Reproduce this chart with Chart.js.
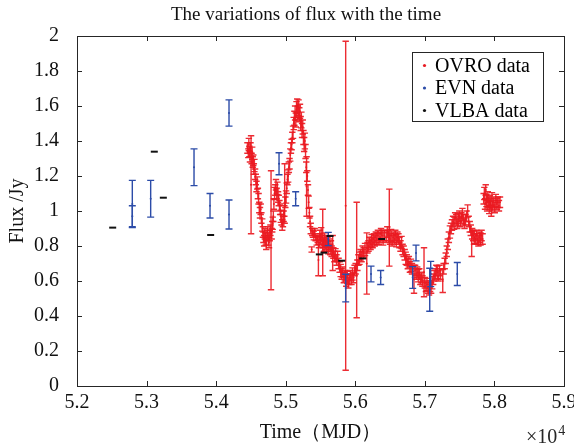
<!DOCTYPE html>
<html>
<head>
<meta charset="utf-8">
<script src="https://cdn.jsdelivr.net/npm/chart.js@4.4.1/dist/chart.umd.min.js"></script>
<style>
  html, body { margin: 0; padding: 0; background: #fff; }
</style>
</head>
<body>
<canvas id="flux_chart" width="574" height="445"></canvas>
<script>
// OVRO monitoring (MJD, flux in Jy, 1-sigma error)
var ovroMjd = [
  54450,54462,54470,54478,54486,54494,54502,54510,54518,54526,
  54534,54542,54550,54560,54570,54580,54590,54600,54610,54620,
  54630,54640,54650,54662,54672,54680,54690,54700,54710,54720,
  54730,54740,54750,54760,54770,54780,54789,54798,54806,54814,
  54822,54830,54840,54850,54860,54870,54880,54890,54900,54910,
  54920,54930,54940,54950,54960,54970,54980,54985,54995,55005,
  55015,55025,55035,55045,55055,55065,55075,55085,55095,55105,
  55115,55125,55135,55145,55155,55165,55175,55185,55195,55205,
  55215,55225,55235,55245,55255,55265,55275,55285,55295,55300,
  55310,55320,55330,55340,55350,55360,55373,55380,55392,55404,
  55416,55430,55445,55460,55470,55478,55490,55500,55510,55520,
  55532,55540,55550,55560,55570,55580,55590,55600,55612,55625,
  55640,55650,55660,55675,55685,55700,55715,55730,55745,55760,
  55775,55790,55805,55820,55835,55850,55862,55870,55885,55900,
  55915,55930,55945,55960,55975,55990,56005,56020,56030,56045,
  56060,56075,56090,56105,56120,56140,56165,56175,56190,56205,
  56220,56235,56250,56265,56280,56295,56310,56325,56340,56355,
  56370,56385,56400,56418,56445,56460,56475,56489,56500,56515,
  56530,56545,56560,56575,56590,56605,56620,56635,56650,56665,
  56680,56695,56710,56725,56740,56755,56770,56785,56800,56815,
  56844,56860,56875,56890,56905,56920,56935,56950,56965,56988,
  57000,57015,57030,57045,57060,57075,57090,57105,57120,57135,
  57150,57165,57180,57195,57210,57225,57257,57270,57285,57300,
  57315,57330,57345,57360,57375,57390,57405,57420,57435,57450,
  57465,57480,57495,57510,57525,57540,57555,57570,57585,57600,
  57615,57630,57645,57660,57673,57680,57695,57710,57725,57740,
  57755,57770,57785,57800,57815,57830,57845,57855,57865,57875,
  57885,57895,57905,57915,57925,57935,57945,57955,57965,57975,
  57990,58005,58020,58035,58050,58065,58080
];
var ovroFlux = [
  1.36,1.33,1.38,1.34,1.31,1.36,1.15,1.30,1.33,1.28,
  1.29,1.24,1.26,1.21,1.18,1.14,1.16,1.10,1.07,1.02,
  0.99,1.01,0.96,0.92,0.88,0.85,0.83,0.87,0.84,0.81,
  0.86,0.88,0.84,0.82,0.86,0.89,0.89,0.87,0.91,0.93,
  0.97,1.04,1.10,1.12,1.15,1.10,1.13,1.08,1.06,1.03,
  1.01,0.97,0.95,0.92,0.94,0.97,1.00,1.10,1.05,1.08,
  1.13,1.18,1.20,1.25,1.27,1.32,1.36,1.38,1.42,1.45,
  1.50,1.53,1.56,1.52,1.58,1.60,1.56,1.59,1.55,1.57,
  1.50,1.52,1.46,1.48,1.42,1.38,1.40,1.34,1.25,1.14,
  1.20,1.12,1.05,0.99,0.94,0.90,0.78,0.88,0.87,0.86,
  0.88,0.85,0.83,0.84,0.72,0.82,0.86,0.84,0.87,0.83,
  0.82,0.82,0.80,0.84,0.81,0.83,0.80,0.82,0.79,0.81,
  0.78,0.80,0.77,0.76,0.76,0.74,0.75,0.72,0.74,0.70,
  0.68,0.66,0.64,0.65,0.62,0.63,1.03,0.60,0.62,0.59,
  0.61,0.63,0.61,0.64,0.62,0.66,0.67,0.72,0.69,0.72,
  0.73,0.75,0.74,0.77,0.76,0.78,0.70,0.79,0.80,0.82,
  0.81,0.83,0.82,0.84,0.83,0.85,0.84,0.86,0.84,0.85,
  0.87,0.86,0.84,0.86,0.85,0.88,0.86,0.905,0.84,0.86,
  0.83,0.85,0.84,0.86,0.83,0.85,0.84,0.82,0.80,0.82,
  0.78,0.77,0.75,0.73,0.72,0.70,0.71,0.68,0.69,0.67,
  0.61,0.66,0.64,0.65,0.63,0.64,0.61,0.62,0.60,0.65,
  0.59,0.57,0.58,0.56,0.55,0.57,0.56,0.59,0.61,0.63,
  0.64,0.66,0.65,0.63,0.66,0.64,0.60,0.67,0.70,0.73,
  0.77,0.81,0.85,0.88,0.90,0.92,0.94,0.93,0.96,0.95,
  0.93,0.95,0.97,0.94,0.96,0.98,0.95,0.93,0.95,0.97,
  1.00,0.94,0.91,0.89,0.81,0.87,0.86,0.85,0.84,0.86,
  0.84,0.83,0.85,0.84,0.86,0.84,1.07,1.10,1.04,1.12,
  1.06,1.03,1.08,1.05,1.02,1.06,1.04,1.00,1.07,1.03,
  1.05,1.02,1.06,1.04,1.05,1.03,1.05
];
var ovroErr = [
  .03,.025,.035,.03,.03,.03,.28,.03,.035,.03,
  .03,.03,.035,.03,.03,.03,.035,.03,.03,.03,
  .03,.03,.03,.035,.03,.03,.03,.03,.035,.03,
  .03,.03,.035,.03,.03,.03,.34,.03,.03,.035,
  .03,.03,.035,.03,.03,.03,.035,.03,.03,.03,
  .03,.035,.03,.03,.03,.03,.03,.17,.03,.035,
  .03,.03,.035,.03,.03,.035,.03,.03,.03,.035,
  .035,.04,.04,.04,.045,.04,.04,.045,.04,.04,
  .04,.045,.04,.04,.04,.04,.045,.04,.03,.17,
  .03,.03,.035,.03,.03,.03,.015,.02,.02,.025,
  .02,.02,.025,.02,.09,.03,.03,.03,.035,.03,
  .19,.03,.03,.035,.03,.03,.03,.03,.035,.03,
  .03,.03,.03,.10,.03,.03,.035,.03,.03,.03,
  .03,.035,.03,.03,.03,.03,.94,.03,.035,.03,
  .03,.03,.03,.035,.03,.03,.03,.33,.03,.03,
  .035,.03,.03,.03,.03,.035,.175,.03,.03,.03,
  .03,.035,.03,.03,.03,.03,.035,.03,.03,.03,
  .03,.03,.035,.03,.03,.03,.03,.22,.03,.035,
  .03,.03,.03,.03,.035,.03,.03,.03,.03,.035,
  .03,.03,.03,.035,.03,.03,.03,.03,.035,.03,
  .08,.03,.03,.03,.035,.03,.03,.03,.03,.14,
  .03,.03,.035,.03,.03,.03,.03,.035,.03,.03,
  .03,.03,.035,.03,.03,.03,.066,.03,.03,.03,
  .03,.03,.03,.035,.03,.03,.03,.035,.03,.03,
  .03,.035,.03,.03,.03,.035,.03,.03,.03,.03,
  .035,.03,.03,.03,.07,.03,.03,.035,.03,.03,
  .03,.03,.03,.035,.03,.03,.03,.035,.03,.03,
  .035,.03,.03,.03,.035,.03,.03,.03,.035,.03,
  .03,.03,.035,.03,.03,.03,.03
];

// EVN
var evnMjd  = [52795, 52795, 53059, 53682, 53912, 54185, 54185, 54904, 55143, 55612, 55862, 56226, 56365, 56825, 56873, 57070, 57084, 57466];
var evnFlux = [1.04, 0.97, 1.07, 1.25, 1.03, 1.56, 0.98, 1.27, 1.07, 0.84, 0.56, 0.64, 0.62, 0.62, 0.76, 0.55, 0.64, 0.64];
var evnErr  = [0.135, 0.06, 0.105, 0.105, 0.07, 0.075, 0.083, 0.063, 0.04, 0.038, 0.079, 0.045, 0.04, 0.062, 0.045, 0.123, 0.072, 0.066];

// VLBA
var vlbaMjd  = [52513, 53111, 53241, 53921, 55483, 55550, 55637, 55805, 56107, 56380];
var vlbaFlux = [0.905, 1.339, 1.076, 0.863, 0.752, 0.762, 0.857, 0.716, 0.729, 0.84];

var xTickLabels = ['5.2', '5.3', '5.4', '5.5', '5.6', '5.7', '5.8', '5.9'];
var yTickLabels = ['0', '0.2', '0.4', '0.6', '0.8', '1', '1.2', '1.4', '1.6', '1.8', '2'];
var titleText = 'The variations of flux with the time';

var serif = "'Liberation Serif', 'Times New Roman', serif";
var axisColor = '#262626';

function toPoints(xs, ys) {
  var pts = [];
  for (var i = 0; i < xs.length; i++) pts.push({x: xs[i], y: ys[i]});
  return pts;
}

// error bars, drawn right after each dataset so the layering follows 'order'
var errorBars = {
  id: 'errorBars',
  afterDatasetDraw: function(chart, args) {
    var ds = chart.data.datasets[args.index];
    if (!ds.errors) return;
    var ctx = chart.ctx, xs = chart.scales.x, ys = chart.scales.y;
    ctx.save();
    ctx.strokeStyle = ds.borderColor;
    ctx.lineWidth = ds.barWidth;
    ds.data.forEach(function(p, j) {
      var e = ds.errors[j];
      var x = xs.getPixelForValue(p.x);
      var top = ys.getPixelForValue(p.y + e);
      var bot = ys.getPixelForValue(p.y - e);
      ctx.beginPath();
      ctx.moveTo(x, top); ctx.lineTo(x, bot);
      ctx.moveTo(x - ds.cap, top); ctx.lineTo(x + ds.cap, top);
      ctx.moveTo(x - ds.cap, bot); ctx.lineTo(x + ds.cap, bot);
      ctx.stroke();
    });
    ctx.restore();
  }
};

// matlab style box with inward ticks on all four sides, title, legend and exponent
var frame = {
  id: 'frame',
  afterDraw: function(chart) {
    var ctx = chart.ctx, a = chart.chartArea;
    var xs = chart.scales.x, ys = chart.scales.y;
    ctx.save();
    ctx.strokeStyle = axisColor;
    ctx.lineWidth = 1;
    ctx.strokeRect(Math.round(a.left) + 0.5, Math.round(a.top) + 0.5,
                   Math.round(a.right - a.left), Math.round(a.bottom - a.top));
    ctx.beginPath();
    xs.ticks.forEach(function(t) {
      var x = Math.round(xs.getPixelForValue(t.value)) + 0.5;
      ctx.moveTo(x, a.bottom); ctx.lineTo(x, a.bottom - 5);
      ctx.moveTo(x, a.top); ctx.lineTo(x, a.top + 5);
    });
    ys.ticks.forEach(function(t) {
      var y = Math.round(ys.getPixelForValue(t.value)) + 0.5;
      ctx.moveTo(a.left, y); ctx.lineTo(a.left + 5, y);
      ctx.moveTo(a.right, y); ctx.lineTo(a.right - 5, y);
    });
    ctx.stroke();

    // title
    ctx.fillStyle = '#111';
    ctx.font = '19px ' + serif;
    ctx.textAlign = 'center';
    ctx.textBaseline = 'middle';
    ctx.fillText(titleText, 306, 15);

    // legend
    var lx = a.right - 152, ly = a.top + 16, lw = 131, lh = 69;
    ctx.fillStyle = '#fff';
    ctx.fillRect(lx, ly, lw, lh);
    ctx.strokeStyle = axisColor;
    ctx.strokeRect(Math.round(lx) + 0.5, Math.round(ly) + 0.5, lw, lh);
    ctx.font = '20px ' + serif;
    ctx.textAlign = 'left';
    chart.data.datasets.forEach(function(ds, i) {
      var cy = ly + 13.5 + i * 22.5;
      ctx.fillStyle = ds.legendColor;
      ctx.beginPath();
      ctx.arc(lx + 12.5, cy, 1.6, 0, Math.PI * 2);
      ctx.fill();
      ctx.fillStyle = '#000';
      ctx.fillText(ds.label, lx + 23, cy + 1);
    });

    // x10^4 multiplier
    ctx.fillStyle = '#262626';
    ctx.textBaseline = 'alphabetic';
    ctx.font = '20px ' + serif;
    var base = '\u00d710';
    ctx.fillText(base, 526, 443);
    var w = ctx.measureText(base).width;
    ctx.font = '14px ' + serif;
    ctx.fillText('4', 526 + w + 1, 435);
    ctx.restore();
  }
};

var ctx = document.getElementById('flux_chart').getContext('2d');

var chart = new Chart(ctx, {
  type: 'scatter',
  data: {
    datasets: [
      {
        label: 'OVRO data',
        data: toPoints(ovroMjd, ovroFlux),
        errors: ovroErr,
        borderColor: 'rgba(234,26,34,0.92)',
        backgroundColor: 'rgba(234,26,34,0.92)',
        legendColor: '#e81c24',
        barWidth: 1.4,
        cap: 3.2,
        pointRadius: 1,
        borderWidth: 0,
        order: 3
      },
      {
        label: 'EVN data',
        data: toPoints(evnMjd, evnFlux),
        errors: evnErr,
        borderColor: '#2c4ca8',
        backgroundColor: '#2c4ca8',
        legendColor: '#2c4ca8',
        barWidth: 1.4,
        cap: 3.5,
        pointRadius: 1,
        borderWidth: 0,
        order: 2
      },
      {
        label: 'VLBA data',
        data: toPoints(vlbaMjd, vlbaFlux),
        borderColor: '#111',
        backgroundColor: '#111',
        legendColor: '#111',
        pointStyle: 'line',
        pointRadius: 3.5,
        borderWidth: 2,
        order: 1
      }
    ]
  },
  options: {
    responsive: false,
    animation: false,
    devicePixelRatio: 1,
    layout: { padding: { left: 0, right: 10, top: 36, bottom: 0 } },
    plugins: {
      legend: { display: false },
      tooltip: { enabled: false },
      title: { display: false }
    },
    scales: {
      x: {
        type: 'linear',
        min: 52000,
        max: 59000,
        grid: { display: false },
        border: { display: false },
        ticks: {
          stepSize: 1000,
          padding: -3,
          color: '#111',
          font: { family: serif, size: 20 },
          maxRotation: 0,
          callback: function(v, i) { return xTickLabels[i]; }
        },
        title: {
          display: true,
          text: 'Time\uff08MJD\uff09',
          color: '#111',
          font: { family: serif, size: 20 },
          padding: { top: -5, bottom: 0 }
        },
        afterFit: function(s) { s.height = 59; s.paddingLeft = 0; s.paddingRight = 0; }
      },
      y: {
        min: 0,
        max: 2,
        grid: { display: false },
        border: { display: false },
        ticks: {
          stepSize: 0.2,
          padding: 10,
          color: '#111',
          font: { family: serif, size: 20 },
          callback: function(v, i) { return yTickLabels[i]; }
        },
        title: {
          display: true,
          text: 'Flux /Jy',
          color: '#111',
          font: { family: serif, size: 20 },
          padding: { top: 6, bottom: 0 }
        },
        afterFit: function(s) { s.width = 77; }
      }
    }
  },
  plugins: [errorBars, frame]
});
</script>
</body>
</html>
